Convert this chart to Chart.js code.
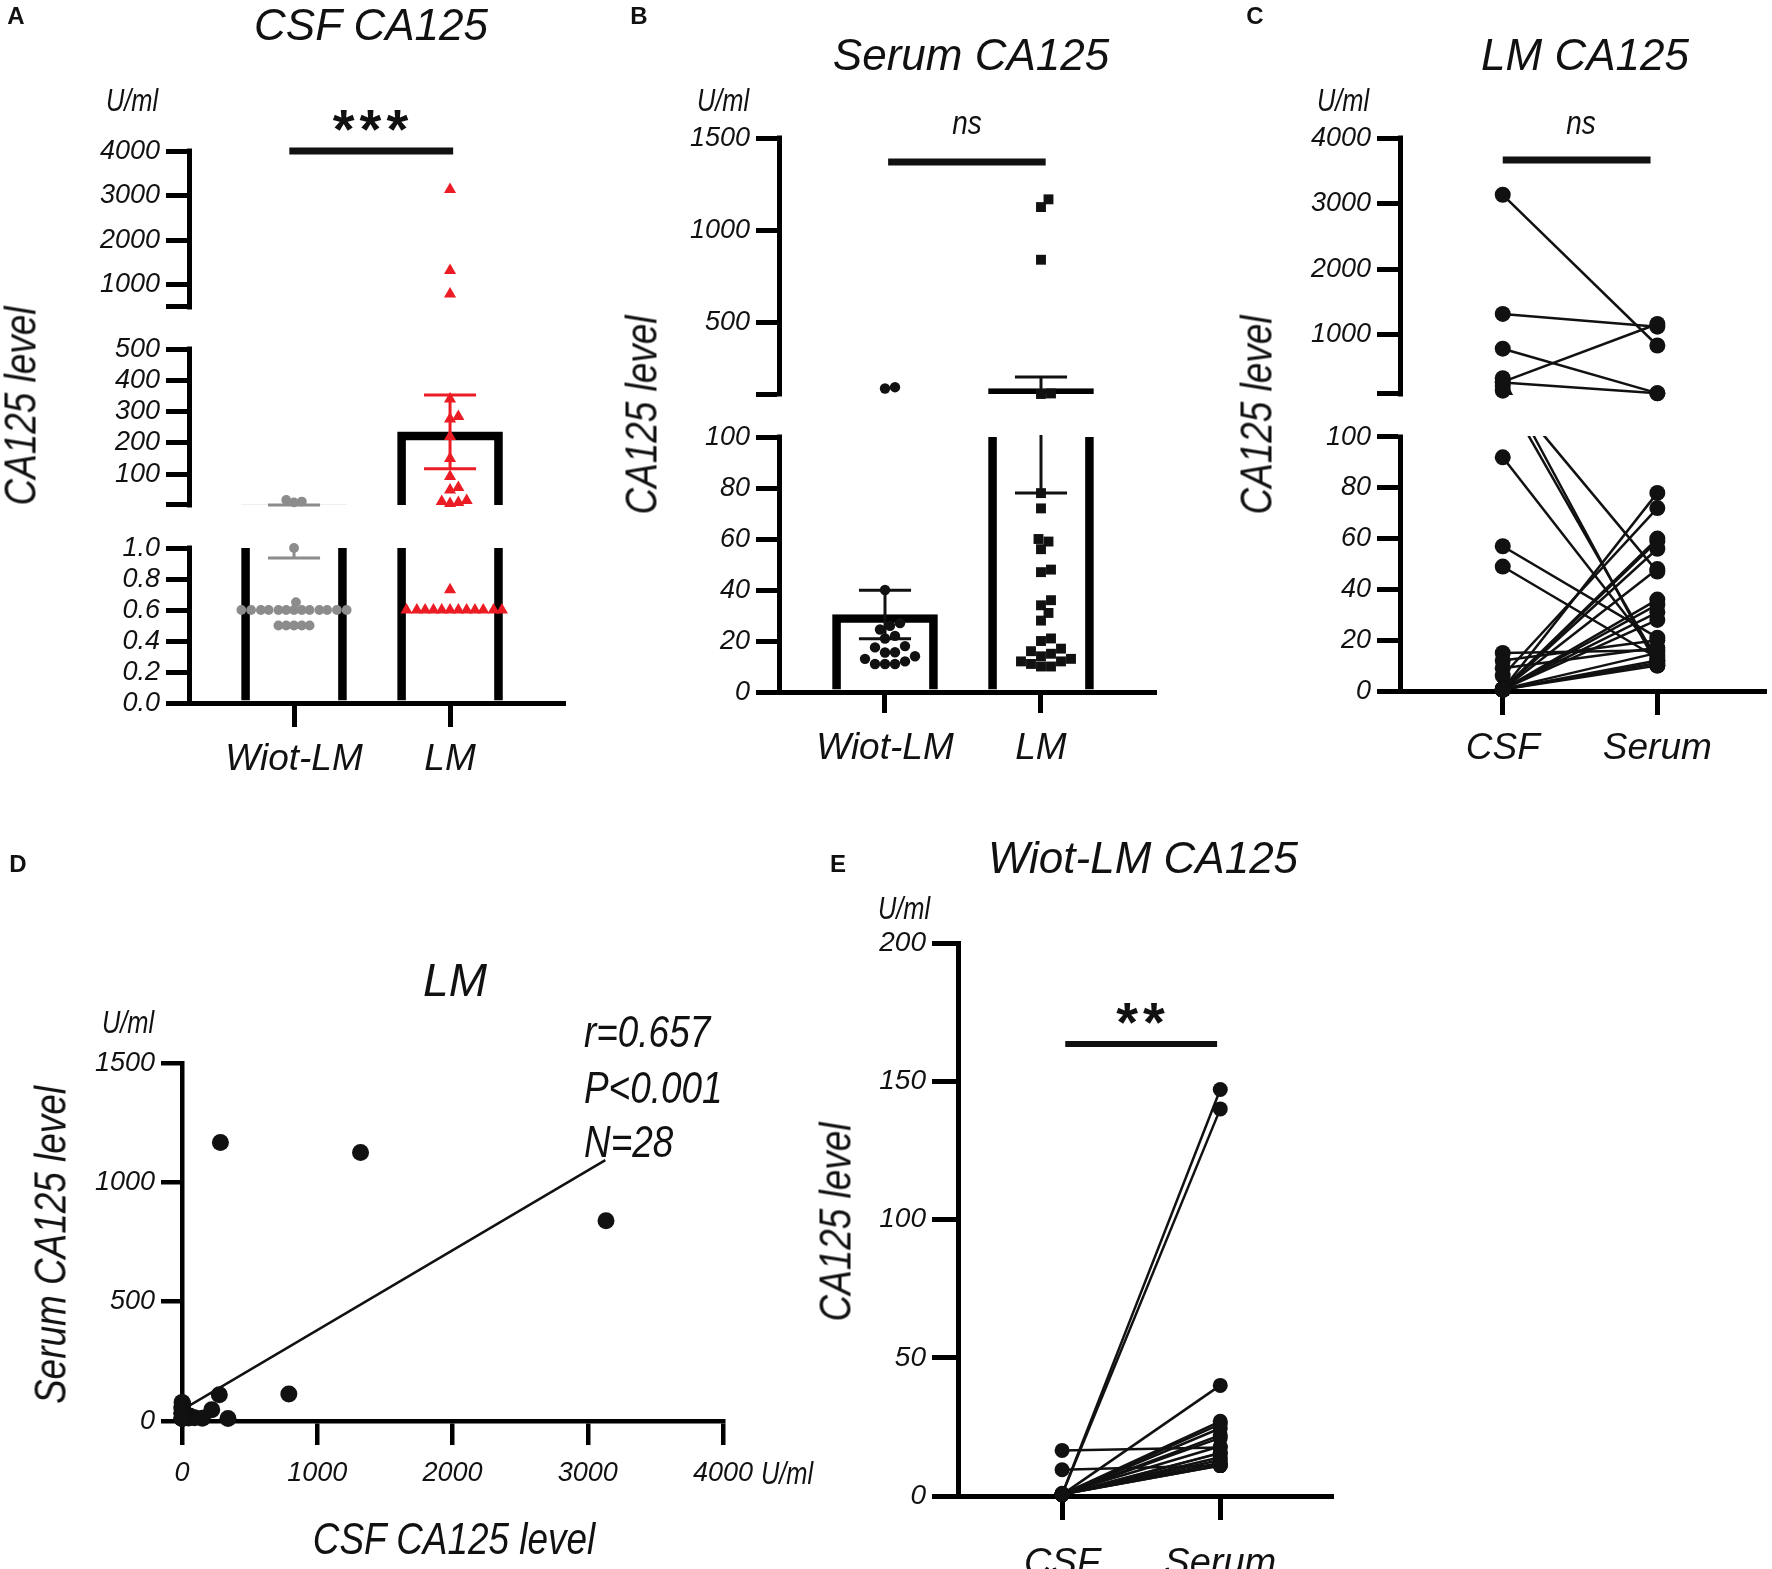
<!DOCTYPE html>
<html>
<head>
<meta charset="utf-8">
<title>CA125 levels</title>
<script src="https://cdn.jsdelivr.net/npm/chart.js@4.4.1/dist/chart.umd.min.js"></script>
<style>
  html, body { margin: 0; padding: 0; background: #fff; }
  #page { position: relative; width: 1772px; height: 1569px; overflow: hidden; background: #fff; }
  canvas { position: absolute; }
  .t { position: absolute; white-space: nowrap; line-height: 1; color: #111;
       transform: translate(-50%, -50%);
       font-family: "Liberation Sans", Arial, sans-serif; font-style: italic; }
  .letter { font-style: normal; font-weight: bold; font-size: 24px; }
  .title { font-size: 44px; }
  .unit { font-size: 31px; transform: translate(-50%, -50%) scaleX(0.82); }
  .ytitle { font-size: 45px; transform: translate(-50%, -50%) rotate(-90deg) scaleX(0.82); }
  .xtitle { font-size: 45px; transform: translate(-50%, -50%) scaleX(0.82); }
  .stat { font-size: 45px; transform: translate(0, -50%) scaleX(0.82); transform-origin: left center; }
  .ns { font-size: 34px; transform: translate(-50%, -50%) scaleX(0.82); }
  .star { font-style: normal; font-weight: bold; font-size: 56px; letter-spacing: 5px; }
</style>
</head>
<body>
<div id="page">
  <canvas id="cA" width="590" height="800" style="left:0;top:0"></canvas>
  <canvas id="cB" width="600" height="800" style="left:600px;top:0"></canvas>
  <canvas id="cC" width="572" height="800" style="left:1200px;top:0"></canvas>
  <canvas id="cD" width="800" height="749" style="left:0;top:820px"></canvas>
  <canvas id="cE" width="600" height="749" style="left:800px;top:820px"></canvas>

  <div class="t letter" style="left:16px;top:16px">A</div>
  <div class="t letter" style="left:639px;top:16px">B</div>
  <div class="t letter" style="left:1255px;top:16px">C</div>
  <div class="t letter" style="left:18px;top:864px">D</div>
  <div class="t letter" style="left:838px;top:864px">E</div>

  <div class="t title" style="left:371px;top:25px">CSF CA125</div>
  <div class="t title" style="left:971px;top:55px">Serum CA125</div>
  <div class="t title" style="left:1585px;top:55px">LM CA125</div>
  <div class="t title" style="left:455px;top:980px;font-size:46px">LM</div>
  <div class="t title" style="left:1143px;top:858px">Wiot-LM CA125</div>

  <div class="t unit" style="left:132px;top:100px">U/ml</div>
  <div class="t unit" style="left:723px;top:100px">U/ml</div>
  <div class="t unit" style="left:1343px;top:100px">U/ml</div>
  <div class="t unit" style="left:128px;top:1022px">U/ml</div>
  <div class="t unit" style="left:904px;top:908px">U/ml</div>
  <div class="t unit" style="left:787px;top:1473px">U/ml</div>

  <div class="t ytitle" style="left:20px;top:406px">CA125 level</div>
  <div class="t ytitle" style="left:641px;top:415px">CA125 level</div>
  <div class="t ytitle" style="left:1256px;top:415px">CA125 level</div>
  <div class="t ytitle" style="left:50px;top:1245px">Serum CA125 level</div>
  <div class="t ytitle" style="left:835px;top:1222px">CA125 level</div>
  <div class="t xtitle" style="left:454px;top:1538px">CSF CA125 level</div>

  <div class="t stat" style="left:584px;top:1031px">r=0.657</div>
  <div class="t stat" style="left:584px;top:1087px">P&lt;0.001</div>
  <div class="t stat" style="left:584px;top:1141px">N=28</div>

  <div class="t star" style="left:373px;top:129px">***</div>
  <div class="t ns" style="left:967px;top:122px">ns</div>
  <div class="t ns" style="left:1581px;top:122px">ns</div>
  <div class="t star" style="left:1143px;top:1022px">**</div>
</div>

<script>
// ---------------- data (U/ml) ----------------
const groups = ['Wiot-LM', 'LM'];
const sides = ['CSF', 'Serum'];

// A: CSF CA125 of the Wiot-LM group (LM group comes from the pairs below)
const csfWiot = [17, 12, 9.5, 1.0, 0.65,
  0.6, 0.6, 0.6, 0.6, 0.6, 0.6, 0.6, 0.6, 0.6, 0.6, 0.6, 0.6, 0.6,
  0.5, 0.5, 0.5, 0.5, 0.5];
const csfMean = [1.05, 235];
const csfSem = [0.115, 118];

// B: serum CA125 bar heights and error bars
const serumMean = [30.4, 140];
const serumSem = [9.5, 62];

// C / D: LM patients, CSF and serum of the same patient
const lmCsf = [3135, 1320, 790, 284, 276, 220, 340, 150, 92, 57, 49, 15, 12, 9, 6, 0.73,
  0.6, 0.6, 0.6, 0.6, 0.6, 0.6, 0.6, 0.6, 0.6, 0.6, 0.6, 0.6];
const lmSerum = [839, 1125, 113, 1167, 110, 47, 10, 12, 14, 21, 13, 16, 20, 17, 72, 15,
  78, 60, 59, 56, 48, 36, 34, 31, 28, 12, 11, 10];

// D: regression line end points
const fitCsf = [0.6, 3130];
const fitSerum = [46, 1093];

// E: Wiot-LM patients, CSF and serum
const wiotCsf = [0.6, 0.6, 0.5, 16.5, 9.5, 0.6, 0.6, 0.5, 0.6, 0.6, 1.0, 0.6, 0.5, 0.6, 0.6, 0.5, 0.6, 0.6];
const wiotSerum = [147, 140, 40, 17.5, 11, 27, 26, 24.5, 22, 21, 18, 15.6, 15.5, 14, 13, 12, 11, 11];

// significance bars: [from, to] in group units, and height
const sigA = {x: [-0.03, 1.02], y: 4000};
const sigB = {x: [0.02, 1.03], y: 1370};
const sigC = {x: [0, 0.956], y: 3666};
const sigE = {x: [0.02, 0.98], y: 163.5};

// tick values and labels
const tickValsA = [0, 0.2, 0.4, 0.6, 0.8, 1, 1.000001, 100, 200, 300, 400, 500, 500.000001, 1000, 2000, 3000, 4000];
const tickLabsA = ['0.0', '0.2', '0.4', '0.6', '0.8', '1.0', '', '100', '200', '300', '400', '500', '', '1000', '2000', '3000', '4000'];
const tickValsB = [0, 20, 40, 60, 80, 100, 110, 500, 1000, 1500];
const tickLabsB = ['0', '20', '40', '60', '80', '100', '', '500', '1000', '1500'];
const tickValsC = [0, 20, 40, 60, 80, 100, 100.000001, 1000, 2000, 3000, 4000];
const tickLabsC = ['0', '20', '40', '60', '80', '100', '', '1000', '2000', '3000', '4000'];
const tickValsDx = [0, 1000, 2000, 3000, 4000];
const tickLabsDx = ['0', '1000', '2000', '3000', '4000'];
const tickValsDy = [0, 500, 1000, 1500];
const tickLabsDy = ['0', '500', '1000', '1500'];
const tickValsE = [0, 50, 100, 150, 200];
const tickLabsE = ['0', '50', '100', '150', '200'];

// ---------------- styling ----------------
const INK = '#111';
const GRAY = '#8c8c8c';
const RED = '#ec1c24';
const SANS = '"Liberation Sans", Arial, sans-serif';
Chart.defaults.font.family = SANS;
Chart.defaults.color = INK;

// broken axis segments: value range and pixel size (gap = empty pixels below the segment)
const BREAKS = {
  A: [{min: 0, max: 1, size: 155}, {min: 1, max: 500, size: 156, gap: 43}, {min: 500, max: 4000, size: 156, gap: 42}],
  B: [{min: 0, max: 100, size: 255}, {min: 110, max: 1500, size: 256, gap: 43}],
  C: [{min: 0, max: 100, size: 254}, {min: 100, max: 4000, size: 256, gap: 43}]
};

function segLayout(segs) {
  let pos = 0;
  const out = [];
  segs.forEach((s, i) => {
    if (i) pos += s.gap || 0;
    out.push({min: s.min, max: s.max, a: pos, b: pos + s.size});
    pos += s.size;
  });
  return {segs: out, total: pos};
}

// pixels above the axis bottom for a value
function segPos(L, v) {
  const s = L.segs;
  for (let i = 0; i < s.length; i++) {
    const g = s[i];
    if (v <= g.max || i === s.length - 1) {
      if (v >= g.min || i === 0) return g.a + (v - g.min) / (g.max - g.min) * (g.b - g.a);
      const p = s[i - 1];
      return p.b + (v - p.max) / (g.min - p.max) * (g.a - p.b);
    }
  }
  return 0;
}

// linear scale with axis breaks
class BrokenScale extends Chart.LinearScale {
  static id = 'broken';
  get layoutInfo() {
    return this._L || (this._L = segLayout(BREAKS[this.options.brk]));
  }
  determineDataLimits() {
    const s = this.layoutInfo.segs;
    this.min = s[0].min;
    this.max = s[s.length - 1].max;
  }
  buildTicks() {
    return [];
  }
  getPixelForValue(value) {
    if (value === null || value === undefined || isNaN(value)) return NaN;
    const L = this.layoutInfo;
    return this.getPixelForDecimal(segPos(L, value) / L.total);
  }
  getValueForPixel(pixel) {
    return this.min + this.getDecimalForPixel(pixel) * (this.max - this.min);
  }
  segmentPixels() {
    const L = this.layoutInfo;
    return L.segs.map(g => [this.getPixelForDecimal(g.b / L.total), this.getPixelForDecimal(g.a / L.total)]);
  }
  drawBorder() {
    const b = this.options.border;
    if (!b.display) return;
    const ctx = this.ctx;
    const x = this._borderValue !== undefined ? this._borderValue : this.right;
    ctx.save();
    ctx.lineWidth = b.width;
    ctx.strokeStyle = b.color;
    ctx.lineCap = 'square';
    ctx.beginPath();
    for (const [top, bottom] of this.segmentPixels()) {
      ctx.moveTo(x, top);
      ctx.lineTo(x, bottom);
    }
    ctx.stroke();
    ctx.restore();
  }
}
Chart.register(BrokenScale);

// datasets flagged with segClip are drawn only inside the axis segments
const segClip = {
  id: 'segClip',
  beforeDatasetDraw(chart, args) {
    const ds = chart.data.datasets[args.index];
    const y = chart.scales.y;
    if (ds.segClip === undefined || !y.segmentPixels) return;
    const ctx = chart.ctx, a = chart.chartArea, t = ds.segClip;
    ctx.save();
    ctx.beginPath();
    for (const [top, bottom] of y.segmentPixels()) {
      ctx.rect(a.left - 30, top - t, a.right - a.left + 60, bottom - top + 2 * t);
    }
    ctx.clip();
  },
  afterDatasetDraw(chart, args) {
    const ds = chart.data.datasets[args.index];
    if (ds.segClip === undefined || !chart.scales.y.segmentPixels) return;
    chart.ctx.restore();
  }
};
Chart.register(segClip);

// spread points of one group sideways so they do not overlap
function swarm(values, center, brk, unitPx, diam) {
  const L = segLayout(BREAKS[brk]);
  const placed = [];
  const idx = values.map((v, i) => i).sort((a, b) => values[a] - values[b]);
  const out = new Array(values.length);
  for (const i of idx) {
    const py = segPos(L, values[i]);
    let off = 0;
    for (let n = 0; n < 400; n++) {
      off = n === 0 ? 0 : (n % 2 ? 1 : -1) * Math.ceil(n / 2) * diam / 4;
      if (!placed.some(p => Math.hypot(p.x - off, p.y - py) < diam)) break;
    }
    placed.push({x: off, y: py});
    out[i] = {x: center + off / unitPx, y: values[i]};
  }
  return out;
}

function points(data, style, radius, color) {
  return {type: 'scatter', data, pointStyle: style, pointRadius: radius,
    pointBackgroundColor: color, pointBorderColor: color, pointBorderWidth: 0, clip: false, order: 0};
}

function errorBar(x, mean, sem, color) {
  const hi = mean + sem, lo = mean - sem, hw = 0.167;
  return {type: 'line', borderColor: color, borderWidth: 3, pointRadius: 0, spanGaps: false, segClip: 2, order: 1,
    data: [{x: x - hw, y: hi}, {x: x + hw, y: hi}, {x: x, y: null},
      {x: x, y: hi}, {x: x, y: lo}, {x: x, y: null},
      {x: x - hw, y: lo}, {x: x + hw, y: lo}]};
}

function sigBar(sig, width) {
  return {type: 'line', data: [{x: sig.x[0], y: sig.y}, {x: sig.x[1], y: sig.y}],
    borderColor: INK, borderWidth: width, borderCapStyle: 'butt', pointRadius: 0, clip: false, order: 1};
}

function meanBars(means) {
  return {type: 'bar', data: means.map((m, i) => ({x: i, y: m})), barThickness: 105,
    borderWidth: 8, borderColor: '#000', backgroundColor: 'rgba(0,0,0,0)', borderSkipped: 'start',
    segClip: 0, order: 5};
}

function pairLines(a, b, width, clip) {
  return a.map((v, i) => ({type: 'line', data: [{x: 0, y: v}, {x: 1, y: b[i]}],
    borderColor: INK, borderWidth: width, pointRadius: 0, segClip: clip, order: 2}));
}

function axis(o) {
  const s = {
    type: o.type || 'linear',
    position: o.pos,
    bounds: 'data',
    offset: false,
    afterFit: sc => { if (o.pos === 'left') sc.width = o.size; else sc.height = o.size; },
    afterBuildTicks: sc => { sc.ticks = o.ticks.map(v => ({value: v})); },
    ticks: {callback: (v, i) => o.labels[i], font: {family: SANS, size: o.fontSize, style: 'italic'},
      color: INK, padding: o.pad, autoSkip: false, maxRotation: 0, minRotation: 0},
    grid: {display: true, offset: false, drawOnChartArea: false, drawTicks: true,
      tickLength: o.tick, lineWidth: o.w, tickWidth: o.w, color: '#000'},
    border: {display: true, width: o.w, color: '#000'}
  };
  if (o.brk) s.brk = o.brk; else { s.min = o.min; s.max = o.max; }
  return s;
}

function options(pad, x, y) {
  return {
    responsive: false, animation: false, events: [], devicePixelRatio: 1,
    layout: {padding: Object.assign({left: 0, right: 0, top: 0, bottom: 0}, pad)},
    plugins: {legend: {display: false}, tooltip: {enabled: false}},
    scales: {x, y}
  };
}

// ---------------- A: CSF CA125 ----------------
new Chart(document.getElementById('cA'), {
  type: 'scatter',
  data: {datasets: [
    points(swarm(csfWiot, 0, 'A', 156, 7.8), 'circle', 4.9, GRAY),
    points(swarm(lmCsf, 1, 'A', 156, 8.3), 'triangle', 7, RED),
    errorBar(0, csfMean[0], csfSem[0], GRAY),
    errorBar(1, csfMean[1], csfSem[1], RED),
    sigBar(sigA, 7),
    meanBars(csfMean)
  ]},
  options: options({top: 151, right: 27},
    axis({pos: 'bottom', min: -0.673, max: 1.724, ticks: [0, 1], labels: groups, size: 97,
      tick: 24, pad: 11, w: 5, fontSize: 37}),
    axis({pos: 'left', type: 'broken', brk: 'A', ticks: tickValsA, labels: tickLabsA, size: 189,
      tick: 23, pad: 6, w: 5, fontSize: 27}))
});

// ---------------- B: serum CA125 ----------------
new Chart(document.getElementById('cB'), {
  type: 'scatter',
  data: {datasets: [
    points(swarm(wiotSerum, 0, 'B', 156, 10), 'circle', 5.2, INK),
    points(swarm(lmSerum, 1, 'B', 156, 10), 'rect', 7, INK),
    errorBar(0, serumMean[0], serumSem[0], INK),
    errorBar(1, serumMean[1], serumSem[1], INK),
    sigBar(sigB, 7),
    meanBars(serumMean)
  ]},
  options: options({top: 138, right: 46},
    axis({pos: 'bottom', min: -0.6795, max: 1.7244, ticks: [0, 1], labels: groups, size: 108,
      tick: 21, pad: 14, w: 5, fontSize: 37}),
    axis({pos: 'left', type: 'broken', brk: 'B', ticks: tickValsB, labels: tickLabsB, size: 179,
      tick: 23, pad: 6, w: 5, fontSize: 27}))
});

// ---------------- C: LM paired CSF / serum ----------------
new Chart(document.getElementById('cC'), {
  type: 'scatter',
  data: {datasets: [
    points(lmCsf.map(v => ({x: 0, y: v})), 'circle', 8, INK),
    points(lmSerum.map(v => ({x: 1, y: v})), 'circle', 8, INK),
    sigBar(sigC, 7),
    ...pairLines(lmCsf, lmSerum, 2.5, 1)
  ]},
  options: options({top: 138, right: 0},
    axis({pos: 'bottom', min: -0.6646, max: 1.6899, ticks: [0, 1], labels: sides, size: 109,
      tick: 24, pad: 12, w: 5, fontSize: 37}),
    axis({pos: 'left', type: 'broken', brk: 'C', ticks: tickValsC, labels: tickLabsC, size: 200,
      tick: 23, pad: 6, w: 5, fontSize: 27}))
});

// ---------------- D: CSF vs serum, LM ----------------
new Chart(document.getElementById('cD'), {
  type: 'scatter',
  data: {datasets: [
    points(lmCsf.map((c, i) => ({x: c, y: lmSerum[i]})), 'circle', 8.5, INK),
    {type: 'line', data: fitCsf.map((c, i) => ({x: c, y: fitSerum[i]})),
      borderColor: INK, borderWidth: 2.5, pointRadius: 0, order: 1}
  ]},
  options: options({top: 243, right: 77},
    axis({pos: 'bottom', min: 0, max: 4000, ticks: tickValsDx, labels: tickLabsDx, size: 148,
      tick: 24, pad: 12, w: 4.5, fontSize: 27}),
    axis({pos: 'left', min: 0, max: 1500, ticks: tickValsDy, labels: tickLabsDy, size: 182,
      tick: 21, pad: 6, w: 4.5, fontSize: 27}))
});

// ---------------- E: Wiot-LM paired CSF / serum ----------------
new Chart(document.getElementById('cE'), {
  type: 'scatter',
  data: {datasets: [
    points(wiotCsf.map(v => ({x: 0, y: v})), 'circle', 7.5, INK),
    points(wiotSerum.map(v => ({x: 1, y: v})), 'circle', 7.5, INK),
    sigBar(sigE, 6),
    ...pairLines(wiotCsf, wiotSerum, 2.5)
  ]},
  options: options({top: 123, right: 69},
    axis({pos: 'bottom', min: -0.658, max: 1.70, ticks: [0, 1], labels: sides, size: 73,
      tick: 24, pad: 22, w: 5, fontSize: 38}),
    axis({pos: 'left', min: 0, max: 200, ticks: tickValsE, labels: tickLabsE, size: 158,
      tick: 26, pad: 6, w: 5, fontSize: 28}))
});
</script>
</body>
</html>
